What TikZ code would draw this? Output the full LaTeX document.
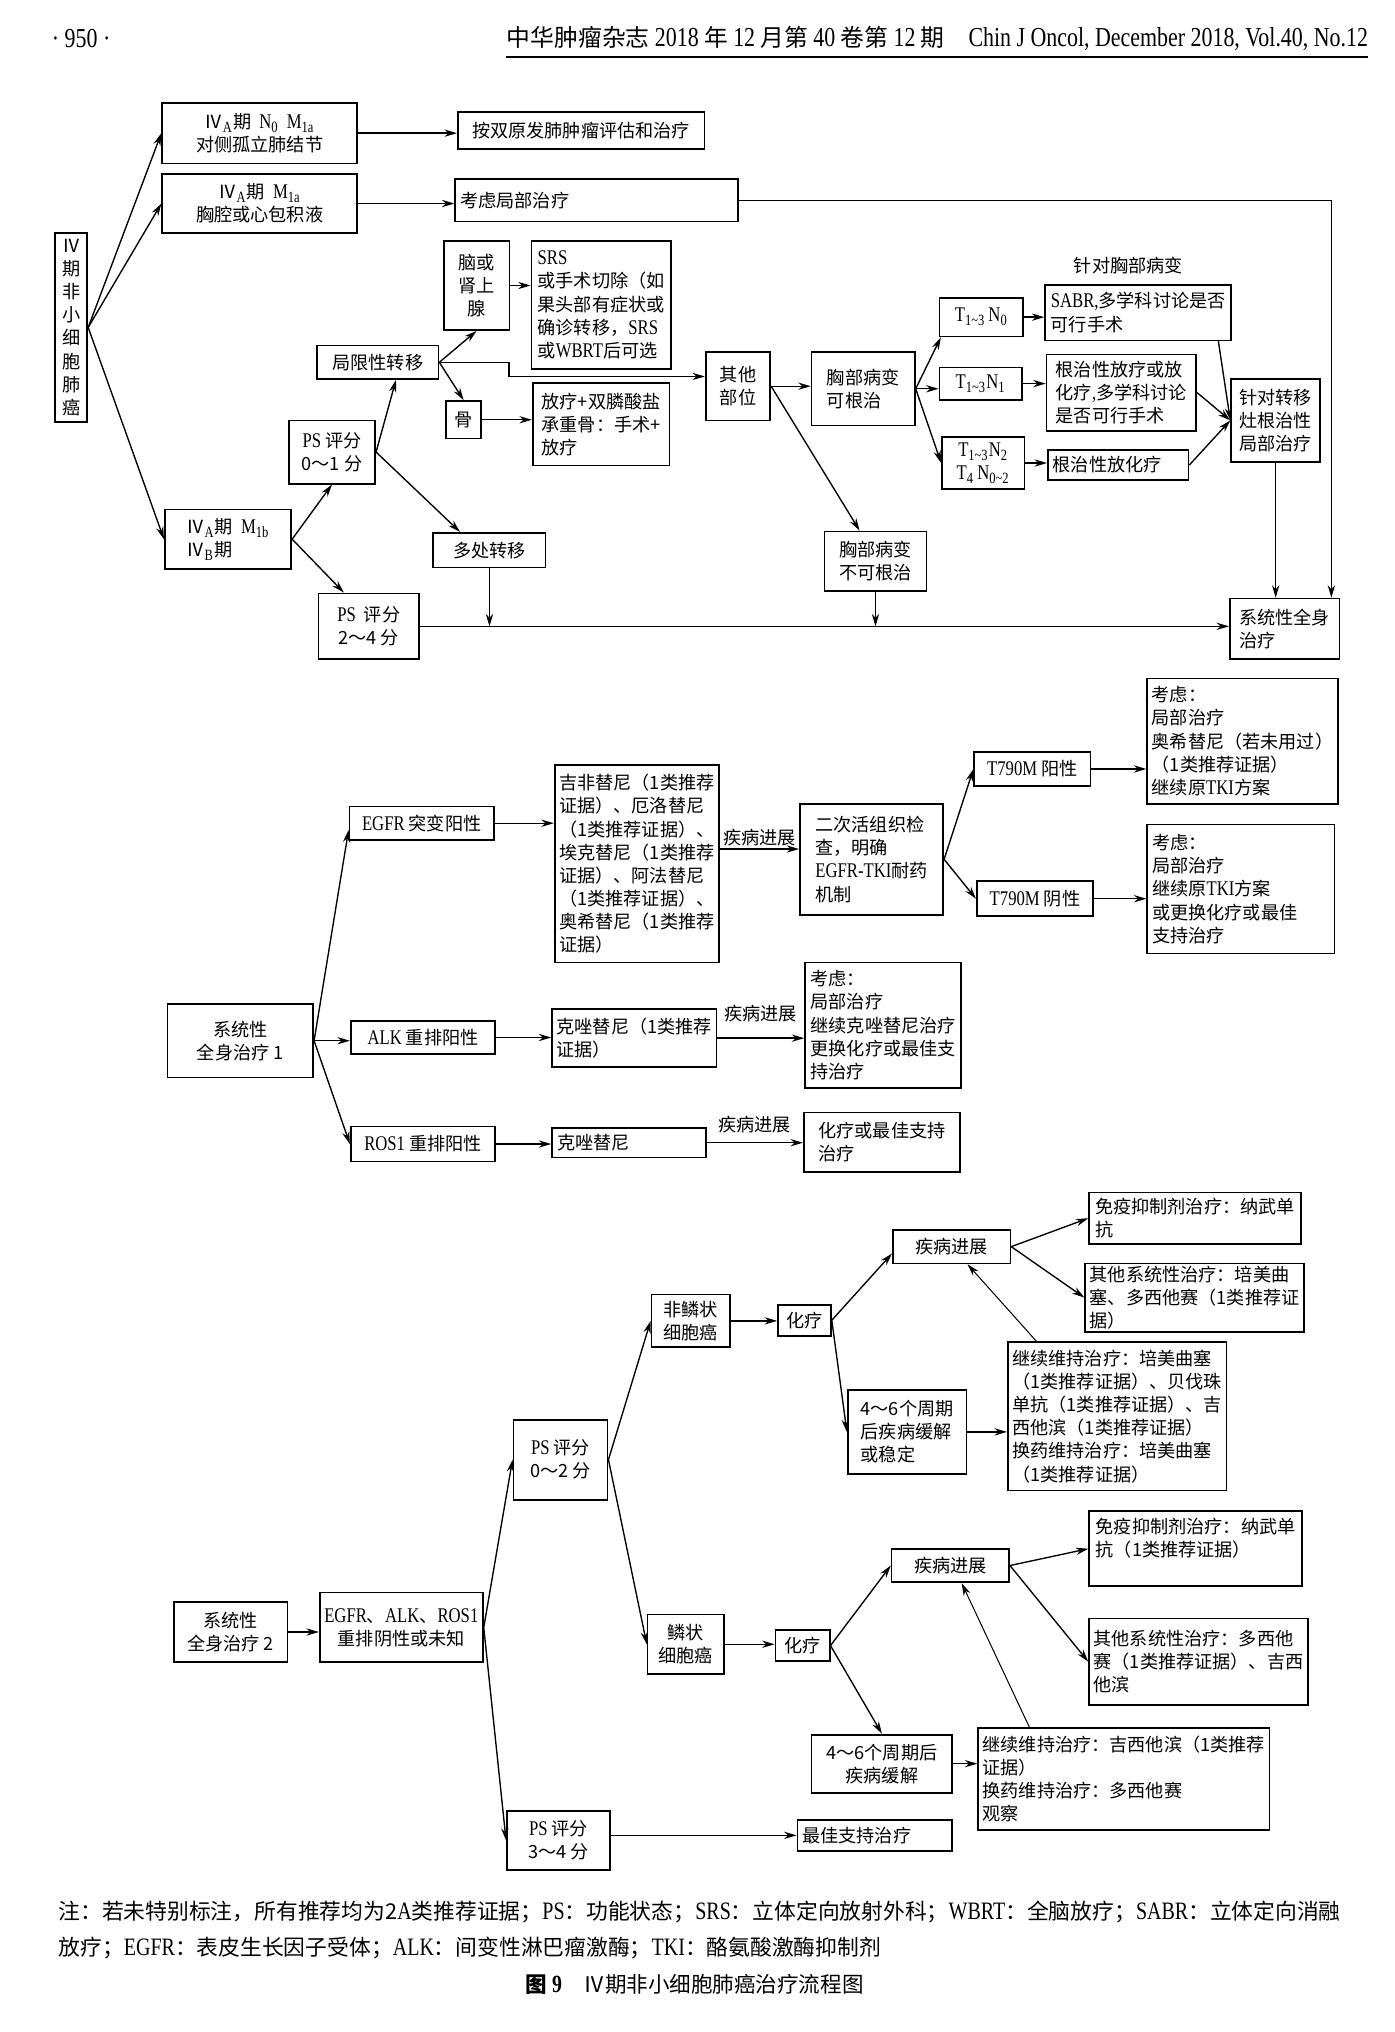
\documentclass[tikz,border=0pt]{standalone}
\usepackage{fontspec}
\setmainfont{Noto Sans CJK SC}
\newfontfamily\lat[FakeStretch=0.8,Scale=1.15]{Liberation Serif}
\usetikzlibrary{arrows.meta,calc}
\newcommand{\en}[1]{{\lat #1}}
\newcommand{\sbs}[1]{\textsubscript{\lat #1}}
\newcommand{\fs}{\fontsize{8}{10.2}\selectfont}
\newcommand{\hd}{\fontsize{10.5}{12}\selectfont}
\newcommand{\nt}{\fontsize{9.6}{16}\selectfont}
\newcommand{\cp}{\fontsize{9.5}{12}\selectfont}
% box from corner (x1,y1) to (x2,y2)
\newcommand{\bx}[7][]{%
  \pgfmathsetmacro\bxw{(#5-#3)*0.569055}%
  \pgfmathsetmacro\bxt{(#5-#3)*0.569055-4.4}%
  \pgfmathsetmacro\bxh{(#6-#4)*0.569055}%
  \node[box,anchor=north west,minimum width=\bxw pt,minimum height=\bxh pt,#1] (#2) at (#3,#4) {#7};}
\tikzset{
  box/.style={draw, line width=0.75pt, inner xsep=2pt, inner ysep=1pt, align=center, font=\fs},
  lft/.style={align=left},
  wide/.style={align=left, text width=\bxt pt},
  arr/.style={-{Stealth[length=5.5pt,width=3.2pt]}, line width=0.6pt},
  lite/.style={line width=0.45pt},
  lbl/.style={font=\fs, inner sep=1pt}
}
\begin{document}
\begin{tikzpicture}[x=0.02cm, y=-0.02cm]
    \fill[white] (0,0) rectangle (1080,1574);
    \useasboundingbox (0,0) rectangle (1080,1574);
    \node[font=\hd, anchor=west] (page) at (34,30) {\en{· 950 ·}};
    \node[font=\hd, anchor=east, inner sep=0pt] (journal) at (1060,30)
        {中华肿瘤杂志 \en{2018} 年 \en{12} 月第 \en{40} 卷第 \en{12} 期\quad\en{Chin J Oncol, December 2018, Vol.40, No.12}};
    \coordinate (rulel) at ($(journal.west)+(0,14)$);
    \coordinate (ruler) at ($(journal.east)+(0,14)$);
    \draw[line width=1pt] (rulel) -- (ruler);

    % stage IV
    \bx{stage}{42}{180}{67}{326}{Ⅳ\\期\\非\\小\\细\\胞\\肺\\癌}
    \bx{nodule}{125}{79}{276}{126}{Ⅳ\sbs{A}期~~\en{N}\sbs{0}~~\en{M}\sbs{1a}\\对侧孤立肺结节}
    \bx{effusion}{125}{134}{276}{180}{Ⅳ\sbs{A}期~~\en{M}\sbs{1a}\\胸腔或心包积液}
    \bx{dual}{354}{86}{545}{115}{按双原发肺肿瘤评估和治疗}
    \bx[wide]{local}{352}{138}{571}{171}{考虑局部治疗}
    \bx{brain}{343}{186}{394}{255}{脑或\\肾上\\腺}
    \bx[lft]{srs}{411}{186}{519}{285}{\en{SRS}\\或手术切除（如\\果头部有症状或\\确诊转移，\en{SRS}\\或\en{WBRT}后可选}
    \bx{oligo}{245}{267}{339}{293}{局限性转移}
    \bx{bone}{345}{310}{372}{339}{骨}
    \bx[lft]{bonetx}{412}{296}{518}{360}{放疗+双膦酸盐\\承重骨：手术+\\放疗}
    \bx{other}{546}{272}{596}{325}{其他\\部位}
    \bx{psa}{223}{325}{290}{374}{\en{PS} 评分\\0～1 分}
    \bx[lft]{mb}{127}{394}{225}{440}{Ⅳ\sbs{A}期~~\en{M}\sbs{1b}\\Ⅳ\sbs{B}期}
    \bx{multi}{335}{412}{422}{439}{多处转移}
    \bx{psb}{246}{459}{324}{510}{\en{PS}~~评分\\2～4 分}
    \bx[lft]{cur}{628}{272}{708}{329}{胸部病变\\可根治}
    \bx{incur}{638}{411}{717}{457}{胸部病变\\不可根治}
    \node[lbl] (chest) at (874,206) {针对胸部病变};
    \bx{tna}{727}{230}{792}{260}{\en{T}\sbs{1\textasciitilde3}\,\en{N}\sbs{0}}
    \bx{tnb}{727}{284}{791}{309}{\en{T}\sbs{1\textasciitilde3}\en{N}\sbs{1}}
    \bx{tnc}{729}{338}{793}{378}{\en{T}\sbs{1\textasciitilde3}\en{N}\sbs{2}\\\en{T}\sbs{4}\,\en{N}\sbs{0\textasciitilde2}}
    \bx[lft]{sabr}{809}{220}{953}{263}{\en{SABR,}多学科讨论是否\\可行手术}
    \bx[lft]{rad}{810}{274}{926}{333}{根治性放疗或放\\化疗\en{,}多学科讨论\\是否可行手术}
    \bx[wide]{crt}{811}{348}{920}{371}{根治性放化疗}
    \bx[lft]{target}{953}{293}{1022}{357}{针对转移\\灶根治性\\局部治疗}
    \bx[lft]{sys}{952}{463}{1037}{510}{系统性全身\\治疗}

    \draw[arr] (stage.east) -- (nodule.west);
    \draw[arr] (stage.east) -- (effusion.west);
    \draw[arr] (stage.east) -- (mb.west);
    \draw[arr] (nodule.east) -- (nodule.east -| dual.west);
    \draw[arr] (effusion.east) -- (effusion.east -| local.west);
    \draw[arr] (local.east) -| ([xshift=-4pt]sys.north east);
    \draw[arr] (mb.east) -- (psa.south);
    \draw[arr] (mb.east) -- ([xshift=-11pt]psb.north);
    \draw[arr] (psa.east) -- ([xshift=8pt]oligo.south);
    \draw[arr] (psa.east) -- ([xshift=-13pt]multi.north);
    \draw[arr] (oligo.east) -- (brain.south);
    \draw[arr] (oligo.east) -- (bone.north);
    \draw[arr] (oligo.east) -- ++(54,0) |- ([yshift=4.3pt]other.west);
    \draw[arr] (brain.east) -- (brain.east -| srs.west);
    \draw[arr] (bone.east) -- (bone.east -| bonetx.west);
    \draw[arr, lite] (multi.south) -- (multi.south |- psb.east);
    \draw[arr] (psb.east) -- (psb.east -| sys.west);
    \draw[arr] (other.east) -- (other.east -| cur.west);
    \draw[arr] (other.east) -- ([xshift=-7pt]incur.north);
    \draw[arr, lite] (incur.south) -- (incur.south |- psb.east);
    \draw[arr] (cur.east) -- ([xshift=1pt]tna.south west);
    \draw[arr] (cur.east) -- (cur.east -| tnb.west);
    \draw[arr] (cur.east) -- (tnc.west);
    \draw[arr] (tna.east) -- (tna.east -| sabr.west);
    \draw[arr] (tnb.east) -- (tnb.east -| rad.west);
    \draw[arr] (tnc.east) -- (tnc.east -| crt.west);
    \draw[arr] ([xshift=-6pt]sabr.south east) -- (target.west);
    \draw[arr] (rad.east) -- (target.west);
    \draw[arr] (crt.east) -- (target.west);
    \draw[arr, lite] (target.south) -- (target.south |- sys.north);

    % systemic therapy 1
    \bx{sysa}{129}{777}{242}{834}{系统性\\全身治疗 1}
    \bx{egfr}{270}{624}{382}{650}{\en{EGFR} 突变阳性}
    \bx{alk}{271}{790}{383}{816}{\en{ALK} 重排阳性}
    \bx{ros}{271}{872}{383}{899}{\en{ROS1} 重排阳性}
    \bx[lft]{tki}{429}{592}{551}{745}{吉非替尼（1类推荐\\证据）、厄洛替尼\\（1类推荐证据）、\\埃克替尼（1类推荐\\证据）、阿法替尼\\（1类推荐证据）、\\奥希替尼（1类推荐\\证据）}
    \bx[lft]{crza}{427}{781}{547}{826}{克唑替尼（1类推荐\\证据）}
    \bx[wide]{crzb}{427}{873}{546}{896}{克唑替尼}
    \bx[lft]{bio}{619}{622}{730}{708}{二次活组织检\\查，明确\\\en{EGFR-TKI}耐药\\机制}
    \bx{tpos}{754}{582}{844}{608}{\en{T790M} 阳性}
    \bx{tneg}{756}{682}{846}{709}{\en{T790M} 阴性}
    \bx[lft]{cpos}{888}{525}{1033}{622}{考虑：\\局部治疗\\奥希替尼（若未用过）\\（1类推荐证据）\\继续原\en{TKI}方案}
    \bx[wide]{cneg}{888}{638}{1033}{738}{考虑：\\局部治疗\\继续原\en{TKI}方案\\或更换化疗或最佳\\支持治疗}
    \bx[lft]{calk}{623}{745}{744}{842}{考虑：\\局部治疗\\继续克唑替尼治疗\\更换化疗或最佳支\\持治疗}
    \bx[lft]{cros}{622}{861}{743}{907}{化疗或最佳支持\\治疗}

    \draw[arr] (sysa.east) -- ([yshift=-3pt]egfr.west);
    \draw[arr] (sysa.east) -- (sysa.east -| alk.west);
    \draw[arr] (sysa.east) -- (ros.west);
    \draw[arr] (egfr.east) -- (egfr.east -| tki.west);
    \draw[arr] (alk.east) -- (alk.east -| crza.west);
    \draw[arr] (ros.east) -- (ros.east -| crzb.west);
    \coordinate (pa) at ($(bio.west)+(0,-8)$);
    \draw[arr] (pa -| tki.east) -- node[lbl, above] {疾病进展} (pa);
    \draw[arr] (bio.east) -- (tpos.west);
    \draw[arr] (bio.east) -- (tneg.west);
    \draw[arr] (tpos.east) -- (tpos.east -| cpos.west);
    \draw[arr] (tneg.east) -- (tneg.east -| cneg.west);
    \draw[arr] (crza.east) -- node[lbl, above=6pt] {疾病进展} (crza.east -| calk.west);
    \draw[arr] (crzb.east) -- node[lbl, above=3pt] {疾病进展} (crzb.east -| cros.west);

    % systemic therapy 2
    \bx{sysb}{134}{1240}{222}{1287}{系统性\\全身治疗 2}
    \bx{neg}{247}{1233}{368}{1287}{\en{EGFR}、\en{ALK}、\en{ROS1}\\重排阴性或未知}
    \bx{psc}{397}{1099}{470}{1161}{\en{PS} 评分\\0～2 分}
    \bx{psd}{392}{1402}{472}{1448}{\en{PS} 评分\\3～4 分}
    \bx{nsq}{504}{1002}{565}{1043}{非鳞状\\细胞癌}
    \bx{sq}{501}{1250}{560}{1296}{鳞状\\细胞癌}
    \bx{chema}{602}{1010}{643}{1034}{化疗}
    \bx{chemb}{600}{1262}{642}{1286}{化疗}
    \bx{proga}{691}{952}{782}{978}{疾病进展}
    \bx{progb}{690}{1199}{781}{1225}{疾病进展}
    \bx[lft]{cyca}{656}{1076}{748}{1141}{4～6个周期\\后疾病缓解\\或稳定}
    \bx{cycb}{628}{1343}{737}{1388}{4～6个周期后\\疾病缓解}
    \bx[lft]{imma}{843}{923}{1007}{963}{免疫抑制剂治疗：纳武单\\抗}
    \bx[lft]{otha}{840}{978}{1007}{1031}{其他系统性治疗：培美曲\\塞、多西他赛（1类推荐证\\据）}
    \bx[lft]{mnta}{780}{1039}{946}{1154}{继续维持治疗：培美曲塞\\（1类推荐证据）、贝伐珠\\单抗（1类推荐证据）、吉\\西他滨（1类推荐证据）\\换药维持治疗：培美曲塞\\（1类推荐证据）}
    \bx[lft]{immb}{843}{1170}{1008}{1228}{免疫抑制剂治疗：纳武单\\抗（1类推荐证据）\\\mbox{}}
    \bx[lft]{othb}{843}{1253}{1007}{1320}{其他系统性治疗：多西他\\赛（1类推荐证据）、吉西\\他滨}
    \bx[lft]{mntb}{757}{1338}{979}{1417}{继续维持治疗：吉西他滨（1类推荐\\证据）\\换药维持治疗：多西他赛\\观察}
    \bx[wide]{bsc}{617}{1409}{737}{1433}{最佳支持治疗}

    \draw[arr] (sysb.east) -- (sysb.east -| neg.west);
    \draw[arr] (neg.east) -- (psc.west);
    \draw[arr] (neg.east) -- (psd.west);
    \draw[arr] (psc.east) -- (nsq.west);
    \draw[arr] (psc.east) -- (sq.west);
    \draw[arr] (nsq.east) -- (nsq.east -| chema.west);
    \draw[arr] (chema.east) -- ([yshift=-3pt]proga.west);
    \draw[arr] (chema.east) -- (cyca.west);
    \draw[arr] (cyca.east) -- (cyca.east -| mnta.west);
    \draw[arr, lite] ([xshift=13pt]mnta.north west) -- ([xshift=7pt]proga.south);
    \draw[arr] (proga.east) -- (imma.west);
    \draw[arr] (proga.east) -- (otha.west);
    \draw[arr] (sq.east) -- (sq.east -| chemb.west);
    \draw[arr] (chemb.east) -- (progb.west);
    \draw[arr] (chemb.east) -- (cycb.north);
    \draw[arr] (cycb.east) -- (cycb.east -| mntb.west);
    \draw[arr, lite] ([xshift=23pt]mntb.north west) -- ([xshift=5pt]progb.south);
    \draw[arr] (progb.east) -- (immb.west);
    \draw[arr] (progb.east) -- (othb.west);
    \draw[arr] (bsc.west -| psd.east) -- (bsc.west);

    \node[font=\nt, anchor=west, align=left, inner sep=0pt] (note) at (45,1495)
        {注：若未特别标注，所有推荐均为2\en{A}类推荐证据；\en{PS}：功能状态；\en{SRS}：立体定向放射外科；\en{WBRT}：全脑放疗；\en{SABR}：立体定向消融\\放疗；\en{EGFR}：表皮生长因子受体；\en{ALK}：间变性淋巴瘤激酶；\en{TKI}：酪氨酸激酶抑制剂};
    \node[font=\cp] (caption) at (538,1537) {\textbf{图 \en{9}}\quad Ⅳ期非小细胞肺癌治疗流程图};
\end{tikzpicture}
\end{document}
